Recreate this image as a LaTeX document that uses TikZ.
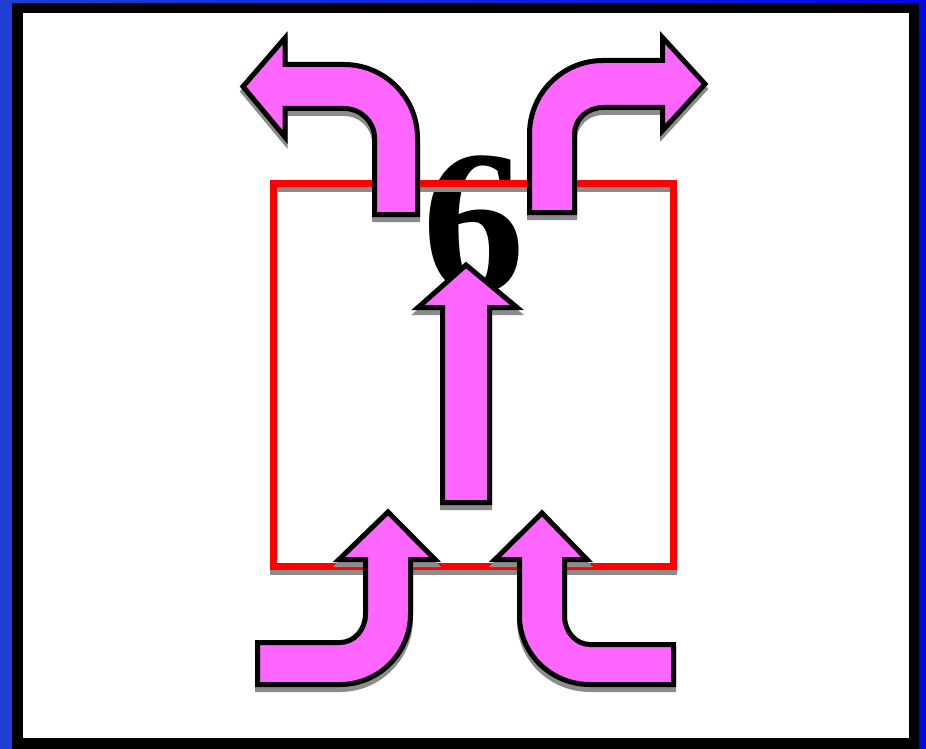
\documentclass[tikz,border=0pt]{standalone}
\usepackage{fontspec}
\setmainfont{Liberation Serif}
\newfontfamily\digitfont{Liberation Serif}
\definecolor{bgL}{RGB}{30,62,212}
\definecolor{bgR}{RGB}{0,8,228}
\definecolor{pinkfill}{RGB}{255,102,255}
\definecolor{shadc}{RGB}{140,140,140}
\tikzset{
  arrowshape/.style={fill=pinkfill, draw=black, line width=5pt, miter limit=20},
  arrowshadow/.style={fill=shadc, draw=shadc, line width=5pt, miter limit=20, yshift=-5pt},
  redbox/.style={draw=red, line width=7pt},
  redshadow/.style={draw=shadc, line width=7pt, yshift=-5pt},
  bigdigit/.style={font=\digitfont\bfseries\fontsize{205}{205}\selectfont, inner sep=0pt, anchor=base}
}
\newcommand\fancyarrow[1]{\filldraw[arrowshadow] #1; \filldraw[arrowshape] #1;}
\begin{document}
\begin{tikzpicture}[x=1pt,y=-1pt]
\useasboundingbox (0,0) rectangle (926,749);
\shade[left color=bgL, right color=bgR] (0,0) rectangle (926,749);
\fill[black] (12,3) rectangle (919,760);
\fill[white] (23,13) rectangle (909,738);
% digit
\node[bigdigit] (six) at (474,291) {6};
% red box
\draw[redshadow] (273.5,183.5) rectangle (673.5,566.5);
\draw[redbox] (273.5,183.5) rectangle (673.5,566.5);
% top-left arrow
\fancyarrow{(417.5,214.5) -- (417.5,138) .. controls (417.5,97.4) and (384.6,64.5) .. (344,64.5) -- (285,64.5) -- (285,38) -- (243,86.5) -- (285,137) -- (285,108.5) -- (344,108.5) .. controls (360.8,108.5) and (374.5,121.7) .. (374.5,138) -- (374.5,214.5) -- cycle}
% top-right arrow
\fancyarrow{(529.5,212.5) -- (529.5,134) .. controls (529.5,93.4) and (562.4,60.5) .. (603,60.5) -- (662.5,60.5) -- (662.5,37.5) -- (705,84) -- (662.5,130.5) -- (662.5,107.5) -- (603,107.5) .. controls (587.3,107.5) and (574.5,119.4) .. (574.5,134) -- (574.5,212.5) -- cycle}
% centre arrow
\fancyarrow{(442.5,502.5) -- (442.5,307.5) -- (418,307.5) -- (466,265) -- (517,307.5) -- (489.5,307.5) -- (489.5,502.5) -- cycle}
% bottom-left arrow
\fancyarrow{(257.5,684.5) -- (340,684.5) .. controls (378.9,684.5) and (410.5,652.9) .. (410.5,614) -- (410.5,559.5) -- (435,559.5) -- (388,512) -- (339,559.5) -- (365.5,559.5) -- (365.5,614) .. controls (365.5,629.7) and (354.1,642.5) .. (340,642.5) -- (257.5,642.5) -- cycle}
% bottom-right arrow
\fancyarrow{(673.5,684.5) -- (590,684.5) .. controls (551.1,684.5) and (519.5,653.8) .. (519.5,616) -- (519.5,559.5) -- (495,559.5) -- (542,513) -- (587,559.5) -- (564.5,559.5) -- (564.5,616) .. controls (564.5,631.7) and (575.9,644.5) .. (590,644.5) -- (673.5,644.5) -- cycle}
\end{tikzpicture}
\end{document}
